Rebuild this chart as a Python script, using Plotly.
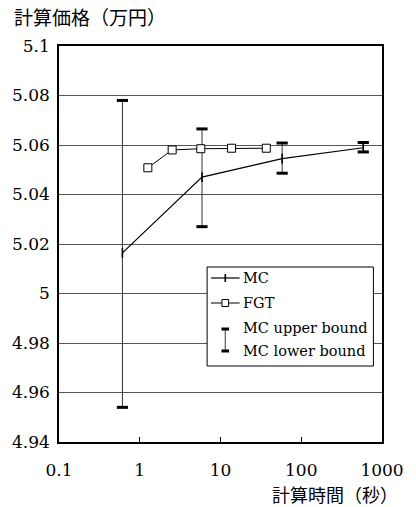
import plotly.graph_objects as go

# ---- data ----
mc_time = [0.61, 5.9, 58, 586]
mc_price = [5.0164, 5.047, 5.0545, 5.0589]
mc_upper = [5.078, 5.0665, 5.0608, 5.0610]
mc_lower = [4.954, 5.027, 5.0486, 5.0572]

fgt_time = [1.26, 2.52, 5.7, 13.7, 36.9]
fgt_price = [5.0508, 5.058, 5.0585, 5.0587, 5.0587]

y_ticks = [4.94, 4.96, 4.98, 5.0, 5.02, 5.04, 5.06, 5.08, 5.1]
y_ticktext = ["4.94", "4.96", "4.98", "5", "5.02", "5.04", "5.06", "5.08", "5.1"]
x_ticks = [0.1, 1, 10, 100, 1000]
x_ticktext = ["0.1", "1", "10", "100", "1000"]

y_title = "計算価格（万円）"
x_title = "計算時間（秒）"
legend_labels = ["MC", "FGT", "MC upper bound", "MC lower bound"]

W, H = 416, 507
L, R, T, B = 54, 24, 46, 65
PW, PH = W - L - R, H - T - B

SERIF = "DejaVu Serif"
CJK = "Noto Sans CJK JP"


def px(x):
    return (x - L) / PW


def py(y):
    return (H - B - y) / PH


fig = go.Figure()

# MC with error bars (thin vertical)
fig.add_trace(go.Scatter(
    x=mc_time, y=mc_price, mode="lines+markers",
    line=dict(color="black", width=1.2),
    marker=dict(symbol="line-ns-open", size=7, color="black",
                line=dict(color="black", width=1.6)),
    error_y=dict(type="data", symmetric=False,
                 array=[u - p for u, p in zip(mc_upper, mc_price)],
                 arrayminus=[p - l for p, l in zip(mc_price, mc_lower)],
                 color="#333333", thickness=1, width=0),
    showlegend=False, hoverinfo="skip",
))
# bold caps of the bounds
fig.add_trace(go.Scatter(
    x=mc_time + mc_time, y=mc_upper + mc_lower, mode="markers",
    marker=dict(symbol="line-ew-open", size=8, color="black",
                line=dict(color="black", width=3)),
    showlegend=False, hoverinfo="skip",
))
# FGT
fig.add_trace(go.Scatter(
    x=fgt_time, y=fgt_price, mode="lines+markers",
    line=dict(color="black", width=1),
    marker=dict(symbol="square", size=8, color="white", line=dict(color="black", width=1)),
    showlegend=False, hoverinfo="skip",
))

fig.update_xaxes(
    type="log", range=[-1, 3], tickvals=x_ticks, ticktext=x_ticktext,
    ticks="inside", ticklen=5, tickcolor="black", tickwidth=1,
    showgrid=False, zeroline=False,
    showline=True, linecolor="black", linewidth=1.5, mirror=True,
    tickfont=dict(family=SERIF, size=17, color="black"),
    ticklabelstandoff=12,
)
fig.update_yaxes(
    range=[4.94, 5.1], tickvals=y_ticks, ticktext=y_ticktext,
    ticks="", showgrid=True, gridcolor="#555555", gridwidth=1, zeroline=False,
    showline=True, linecolor="black", linewidth=1.5, mirror=True,
    tickfont=dict(family=SERIF, size=17, color="black"),
    ticklabelstandoff=4,
)

shapes = []
annotations = []

# legend box
shapes.append(dict(type="rect", xref="paper", yref="paper",
                   x0=px(209), x1=px(383), y0=py(366), y1=py(267),
                   fillcolor="white", line=dict(color="black", width=1), layer="above"))
# MC row
shapes.append(dict(type="line", xref="paper", yref="paper",
                   x0=px(213), x1=px(243), y0=py(278), y1=py(278),
                   line=dict(color="black", width=1.2), layer="above"))
shapes.append(dict(type="line", xref="paper", yref="paper",
                   x0=px(228), x1=px(228), y0=py(274), y1=py(282),
                   line=dict(color="black", width=1.6), layer="above"))
# FGT row
shapes.append(dict(type="line", xref="paper", yref="paper",
                   x0=px(213), x1=px(243), y0=py(303), y1=py(303),
                   line=dict(color="black", width=1), layer="above"))
shapes.append(dict(type="rect", xref="paper", yref="paper",
                   x0=px(224.5), x1=px(231.5), y0=py(306.5), y1=py(299.5),
                   fillcolor="white", line=dict(color="black", width=1), layer="above"))
# bounds I-bar
shapes.append(dict(type="line", xref="paper", yref="paper",
                   x0=px(228), x1=px(228), y0=py(329), y1=py(351),
                   line=dict(color="#333333", width=1), layer="above"))
for yy in (329, 351):
    shapes.append(dict(type="line", xref="paper", yref="paper",
                       x0=px(224), x1=px(232), y0=py(yy), y1=py(yy),
                       line=dict(color="black", width=3), layer="above"))

for lab, yy in zip(legend_labels, [278, 303, 328, 351]):
    annotations.append(dict(text=lab, xref="paper", yref="paper",
                            x=px(244), y=py(yy), xanchor="left", yanchor="middle",
                            showarrow=False, font=dict(family=SERIF, size=14.5, color="black")))

annotations.append(dict(text=y_title, xref="paper", yref="paper",
                        x=px(5), y=py(17), xanchor="left", yanchor="middle",
                        showarrow=False, font=dict(family=CJK, size=19, color="black")))
annotations.append(dict(text=x_title, xref="paper", yref="paper",
                        x=px(275), y=py(494), xanchor="left", yanchor="middle",
                        showarrow=False, font=dict(family=CJK, size=18, color="black")))

fig.update_layout(
    width=W, height=H,
    margin=dict(l=L, r=R, t=T, b=B),
    paper_bgcolor="white", plot_bgcolor="white",
    showlegend=False,
    shapes=shapes, annotations=annotations,
)

fig.write_html("out.html", config={"displayModeBar": False},
               post_script="document.body.style.margin='0';document.body.style.padding='0';")
